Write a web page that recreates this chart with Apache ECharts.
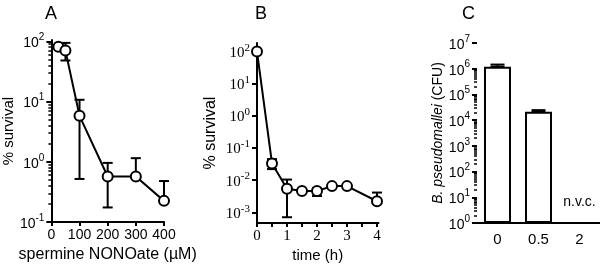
<!DOCTYPE html>
<html>
<head>
<meta charset="utf-8">
<script src="https://cdn.jsdelivr.net/npm/echarts@6/dist/echarts.min.js"></script>
<style>
  html, body { margin: 0; padding: 0; background: #fff; }
  #chart { width: 600px; height: 268px; }
</style>
</head>
<body>
<div id="chart"></div>
<script>
// panel A: survival vs spermine NONOate dose
var doseA = [25, 50, 100, 200, 300, 400];
var survA = [81, 70, 5.8, 0.57, 0.57, 0.225];
var errLowA = [null, 48, 0.52, 0.175, null, null];
var errHighA = [null, 94, 10.7, 0.96, 1.15, 0.48];
var ticksA = [0.1, 1, 10, 100];

// panel B: survival vs time
var timeB = [0, 0.5, 1, 1.5, 2, 2.5, 3, 4];
var survB = [100, 0.033, 0.0054, 0.0046, 0.0046, 0.0065, 0.0065, 0.0022];
var errLowB = [null, 0.022, 0.0007, null, 0.0032, null, null, null];
var errHighB = [null, 0.045, 0.0104, null, 0.0056, null, null, 0.0041];
var ticksB = [0.001, 0.01, 0.1, 1, 10, 100];

// panel C: CFU counts
var catsC = ['0', '0.5', '2'];
var cfuC = [1.2e6, 2.1e4, 1];
var errHighC = [1.45e6, 2.45e4, null];
var ticksC = [1, 10, 100, 1e3, 1e4, 1e5, 1e6, 1e7];

var rangeA = [0.1, 105];
var rangeB = [0.00046, 184];
var rangeC = [1, 1e7];

function minorTicks(lo, hi) {
  var out = [];
  for (var d = lo; d < hi; d *= 10) {
    for (var k = 2; k <= 9; k++) out.push(d * k);
  }
  return out;
}

function log10s(arr) {
  return arr.map(function (v) { return Math.log10(v); });
}

function powLabel(v) {
  var e = Math.round(Math.log10(v));
  return '{b|10}{s|' + e + '}';
}

function powRich(family, size) {
  return {
    b: { fontFamily: family, fontSize: size, color: '#000', lineHeight: 18, verticalAlign: 'bottom' },
    s: { fontFamily: family, fontSize: size - 4, color: '#000', lineHeight: 10, verticalAlign: 'top' }
  };
}

// tick-only overlay axis laid out in log10 space
function tickAxis(grid, range, values, len, width) {
  return {
    gridIndex: grid, type: 'value', position: 'left', offset: 0,
    min: Math.log10(range[0]), max: Math.log10(range[1]),
    axisLine: { show: false }, splitLine: { show: false }, axisLabel: { show: false },
    axisTick: { show: true, length: len, customValues: log10s(values), lineStyle: { color: '#000', width: width } }
  };
}

function errData(xs, lo, hi, ys) {
  var out = [];
  for (var i = 0; i < xs.length; i++) {
    if (lo[i] == null && hi[i] == null) continue;
    out.push([xs[i], lo[i] == null ? ys[i] : lo[i], hi[i] == null ? ys[i] : hi[i]]);
  }
  return out;
}

function errRender(cap) {
  return function (params, api) {
    var x = api.value(0);
    var p1 = api.coord([x, api.value(1)]);
    var p2 = api.coord([x, api.value(2)]);
    var st = { stroke: '#000', lineWidth: 2 };
    var kids = [
      { type: 'line', shape: { x1: p1[0], y1: p1[1], x2: p2[0], y2: p2[1] }, style: st },
      { type: 'line', shape: { x1: p2[0] - cap, y1: p2[1], x2: p2[0] + cap, y2: p2[1] }, style: st }
    ];
    if (p1[1] !== p2[1]) {
      kids.push({ type: 'line', shape: { x1: p1[0] - cap, y1: p1[1], x2: p1[0] + cap, y2: p1[1] }, style: st });
    }
    return { type: 'group', children: kids };
  };
}

var axisLine = { onZero: false, lineStyle: { color: '#000', width: 2 } };
var sans = 'Liberation Sans';
var serif = 'Liberation Serif';

var chart = echarts.init(document.getElementById('chart'));
var option = {
  backgroundColor: '#fff',
  animation: false,
  title: [
    { text: 'A', left: 40, top: 0, textStyle: { fontFamily: sans, fontSize: 18, fontWeight: 'normal', color: '#000' } },
    { text: 'B', left: 250, top: 0, textStyle: { fontFamily: sans, fontSize: 18, fontWeight: 'normal', color: '#000' } },
    { text: 'C', left: 457, top: 0, textStyle: { fontFamily: sans, fontSize: 18, fontWeight: 'normal', color: '#000' } }
  ],
  grid: [
    { left: 46, top: 40, width: 118, height: 186.7 },
    { left: 257, top: 43, width: 121.5, height: 183.7 },
    { left: 477, top: 43, width: 123, height: 180 }
  ],
  xAxis: [
    {
      gridIndex: 0, type: 'value', min: 0, max: 400, interval: 100,
      axisLine: axisLine, splitLine: { show: false },
      axisTick: { length: 4, lineStyle: { color: '#000', width: 2 } },
      axisLabel: { color: '#000', fontFamily: sans, fontSize: 14, margin: 6 },
      name: 'spermine NONOate (\u00b5M)', nameLocation: 'middle', nameGap: 23,
      nameTextStyle: { color: '#000', fontFamily: sans, fontSize: 16 }
    },
    {
      gridIndex: 1, type: 'value', min: 0, max: 4.05, interval: 0.5,
      axisLine: axisLine, splitLine: { show: false },
      axisTick: { length: 4, lineStyle: { color: '#000', width: 2 } },
      axisLabel: {
        color: '#000', fontFamily: serif, fontSize: 15, margin: 5, showMaxLabel: false,
        formatter: function (v) { return v % 1 === 0 ? String(v) : ''; }
      },
      name: 'time (h)', nameLocation: 'middle', nameGap: 24,
      nameTextStyle: { color: '#000', fontFamily: sans, fontSize: 15 }
    },
    {
      gridIndex: 2, type: 'category', data: catsC,
      axisLine: axisLine, axisTick: { show: false },
      axisLabel: { color: '#000', fontFamily: sans, fontSize: 15, margin: 9 }
    }
  ],
  yAxis: [
    {
      gridIndex: 0, type: 'log', min: rangeA[0], max: rangeA[1], position: 'left',
      axisLine: axisLine, splitLine: { show: false }, axisTick: { show: false },
      axisLabel: { customValues: ticksA, formatter: powLabel, rich: powRich(sans, 14), margin: 7 },
      name: '% survival', nameLocation: 'middle', nameGap: 29,
      nameTextStyle: { color: '#000', fontFamily: sans, fontSize: 15 }
    },
    tickAxis(0, rangeA, ticksA, 5, 2),
    tickAxis(0, rangeA, minorTicks(0.1, 100), 3, 1.5),
    {
      gridIndex: 1, type: 'log', min: rangeB[0], max: rangeB[1], position: 'left',
      axisLine: axisLine, splitLine: { show: false }, axisTick: { show: false },
      axisLabel: { customValues: ticksB, formatter: powLabel, rich: powRich(serif, 15), margin: 7 },
      name: '% survival', nameLocation: 'middle', nameGap: 38,
      nameTextStyle: { color: '#000', fontFamily: sans, fontSize: 16 }
    },
    tickAxis(1, rangeB, ticksB, 5, 2),
    {
      gridIndex: 2, type: 'log', min: rangeC[0], max: rangeC[1], position: 'left',
      axisLine: axisLine, splitLine: { show: false }, axisTick: { show: false },
      axisLabel: { customValues: ticksC, formatter: powLabel, rich: powRich(sans, 14), margin: 7 },
      name: '{i|B. pseudomallei} (CFU)', nameLocation: 'middle', nameGap: 32,
      nameTextStyle: {
        color: '#000', fontFamily: sans, fontSize: 14,
        rich: { i: { fontFamily: sans, fontSize: 14, fontStyle: 'italic', color: '#000' } }
      }
    },
    tickAxis(2, rangeC, ticksC, 5, 2),
    tickAxis(2, rangeC, minorTicks(1, 1e6), 3, 1.5)
  ],
  series: [
    {
      type: 'custom', xAxisIndex: 0, yAxisIndex: 0, z: 1,
      renderItem: errRender(5), data: errData(doseA, errLowA, errHighA, survA)
    },
    {
      type: 'line', xAxisIndex: 0, yAxisIndex: 0, z: 2,
      data: doseA.map(function (x, i) { return [x, survA[i]]; }),
      symbol: 'circle', symbolSize: 10,
      lineStyle: { color: '#000', width: 2 },
      itemStyle: { color: '#fff', borderColor: '#000', borderWidth: 2 }
    },
    {
      type: 'custom', xAxisIndex: 1, yAxisIndex: 3, z: 1,
      renderItem: errRender(5), data: errData(timeB, errLowB, errHighB, survB)
    },
    {
      type: 'line', xAxisIndex: 1, yAxisIndex: 3, z: 2,
      data: timeB.map(function (x, i) { return [x, survB[i]]; }),
      symbol: 'circle', symbolSize: 10,
      lineStyle: { color: '#000', width: 2 },
      itemStyle: { color: '#fff', borderColor: '#000', borderWidth: 2 }
    },
    {
      type: 'bar', xAxisIndex: 2, yAxisIndex: 5, barWidth: 27, z: 2,
      data: cfuC.map(function (v, i) {
        if (errHighC[i] == null) {
          return {
            value: v, itemStyle: { borderWidth: 0, color: 'rgba(0,0,0,0)' },
            label: { show: true, position: 'top', distance: 14, formatter: 'n.v.c.', color: '#000', fontFamily: sans, fontSize: 14 }
          };
        }
        return v;
      }),
      itemStyle: { color: '#fff', borderColor: '#000', borderWidth: 2 }
    },
    {
      type: 'custom', xAxisIndex: 2, yAxisIndex: 5, z: 3,
      renderItem: errRender(7),
      data: catsC.map(function (c, i) { return errHighC[i] == null ? null : [i, cfuC[i], errHighC[i]]; })
        .filter(function (d) { return d; })
    }
  ]
};
chart.setOption(option);
</script>
</body>
</html>
